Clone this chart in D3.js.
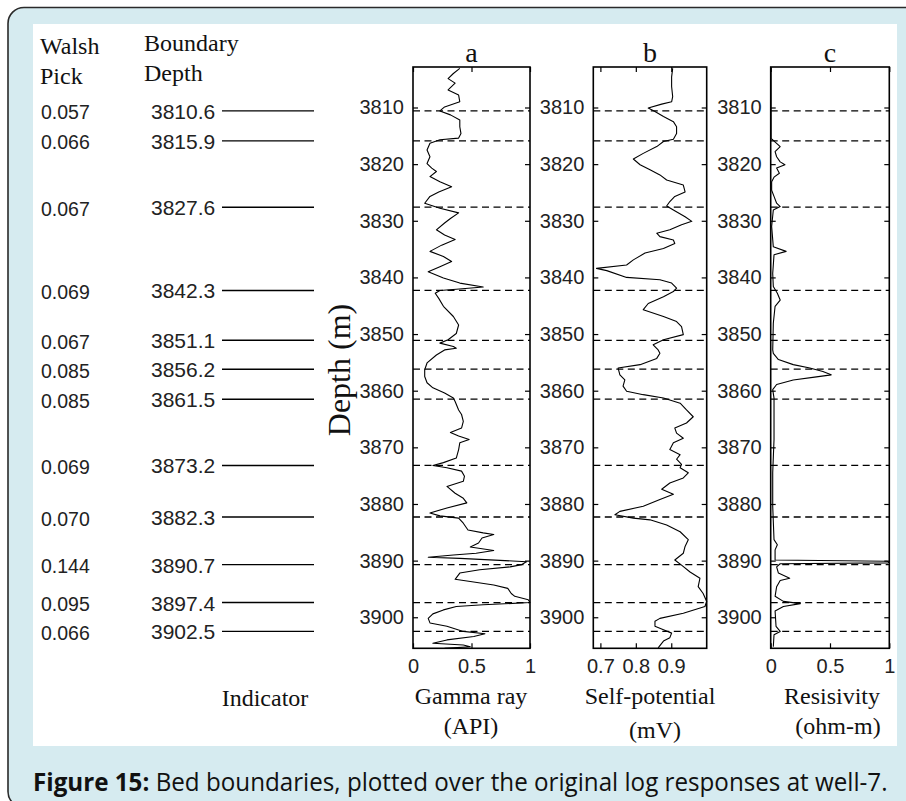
<!DOCTYPE html>
<html>
<head>
<meta charset="utf-8">
<script src="https://cdn.jsdelivr.net/npm/d3@7"></script>
<style>
  html, body { margin: 0; padding: 0; background: #fff; }
  svg { display: block; }
</style>
</head>
<body>
<svg id="chart" width="906" height="801"></svg>
<script>
// ---------------- DATA ----------------
const depthTicks = [3810, 3820, 3830, 3840, 3850, 3860, 3870, 3880, 3890, 3900];
const boundaryDepths = [3810.6, 3815.9, 3827.6, 3842.3, 3851.1, 3856.2, 3861.5, 3873.2, 3882.3, 3890.7, 3897.4, 3902.5];
const walshPicks = ["0.057", "0.066", "0.067", "0.069", "0.067", "0.085", "0.085", "0.069", "0.070", "0.144", "0.095", "0.066"];

const panelTitles = ["a", "b", "c"];
const xTicksA = [0, 0.5, 1];
const xTicksB = [0.7, 0.8, 0.9];
const xTicksC = [0, 0.5, 1];
const xLabels1 = ["Gamma ray", "Self-potential", "Resisivity"];
const xLabels2 = ["(API)", "(mV)", "(ohm-m)"];

// [depth (m), value]
const gammaRay = [[3803.1,.40],[3804.0,.345],[3804.9,.30],[3805.7,.36],[3806.9,.30],[3807.8,.39],[3809.0,.40],[3809.9,.27],[3810.6,.23],[3811.3,.32],[3812.2,.40],[3813.4,.40],[3814.6,.41],[3815.4,.39],[3815.7,.23],[3816.3,.145],[3817.5,.12],[3818.7,.145],[3819.9,.12],[3820.7,.16],[3821.3,.20],[3822.2,.145],[3823.1,.23],[3824.0,.33],[3824.9,.22],[3825.7,.145],[3826.9,.10],[3827.8,.23],[3828.6,.39],[3829.6,.32],[3830.4,.27],[3831.6,.20],[3832.5,.27],[3833.3,.36],[3834.3,.245],[3835.4,.145],[3836.3,.26],[3837.2,.33],[3838.1,.23],[3839.0,.13],[3840.1,.26],[3841.0,.40],[3841.7,.60],[3842.1,.37],[3842.3,.23],[3842.8,.19],[3843.7,.22],[3845.1,.26],[3846.9,.345],[3848.4,.39],[3849.9,.37],[3851.0,.30],[3851.6,.23],[3852.2,.345],[3852.5,.37],[3852.8,.27],[3853.7,.20],[3855.1,.12],[3856.3,.10],[3857.5,.10],[3858.6,.12],[3859.5,.17],[3860.4,.27],[3861.3,.345],[3861.9,.36],[3863.4,.39],[3864.2,.415],[3865.4,.43],[3866.6,.415],[3867.4,.32],[3868.0,.39],[3868.6,.48],[3869.2,.40],[3870.4,.39],[3871.9,.37],[3872.7,.26],[3873.2,.17],[3873.6,.29],[3874.2,.415],[3875.1,.44],[3876.0,.43],[3876.9,.29],[3878.1,.36],[3879.0,.43],[3879.8,.46],[3880.7,.29],[3881.6,.145],[3882.1,.23],[3882.5,.39],[3883.4,.43],[3884.6,.47],[3885.1,.60],[3885.4,.69],[3886.0,.59],[3886.9,.56],[3887.6,.49],[3888.2,.69],[3888.7,.54],[3889.0,.345],[3889.4,.13],[3889.6,.40],[3890.2,.97],[3890.7,.93],[3891.1,.83],[3891.6,.57],[3892.2,.40],[3893.3,.36],[3893.7,.49],[3894.3,.69],[3894.9,.81],[3895.8,.84],[3896.3,.87],[3896.9,.985],[3897.4,1.0],[3897.8,.60],[3898.1,.37],[3898.7,.26],[3899.4,.17],[3900.2,.13],[3901.0,.145],[3901.6,.29],[3902.5,.43],[3902.9,.615],[3903.4,.52],[3904.0,.29],[3904.6,.17],[3904.9,.43],[3905.2,.49],[3905.5,.27]];

const selfPotential = [[3803.1,.904],[3804.6,.901],[3806.3,.901],[3808.1,.904],[3809.0,.901],[3809.4,.873],[3810.1,.835],[3810.7,.854],[3811.6,.878],[3812.5,.906],[3813.4,.915],[3814.6,.915],[3815.6,.906],[3816.0,.878],[3816.9,.859],[3818.1,.821],[3819.1,.793],[3820.1,.812],[3821.0,.84],[3821.9,.868],[3822.8,.887],[3823.7,.934],[3824.9,.939],[3825.7,.91],[3826.6,.896],[3827.4,.887],[3828.1,.906],[3829.3,.939],[3830.1,.958],[3830.7,.929],[3831.6,.896],[3832.2,.859],[3832.8,.868],[3833.4,.906],[3834.0,.91],[3834.9,.878],[3835.7,.826],[3836.9,.793],[3837.8,.774],[3838.4,.689],[3838.8,.718],[3840.0,.774],[3840.4,.868],[3841.0,.901],[3841.9,.915],[3842.5,.906],[3843.4,.878],[3844.6,.835],[3845.7,.821],[3846.9,.878],[3847.8,.915],[3848.7,.929],[3850.1,.934],[3851.0,.878],[3851.9,.849],[3852.8,.863],[3853.4,.868],[3854.3,.859],[3855.4,.812],[3856.0,.75],[3857.2,.755],[3858.1,.769],[3859.2,.764],[3860.1,.774],[3860.7,.821],[3861.3,.878],[3862.2,.925],[3863.4,.943],[3864.6,.962],[3865.7,.943],[3866.6,.91],[3867.5,.915],[3868.4,.934],[3869.2,.906],[3870.4,.896],[3871.3,.925],[3872.1,.915],[3873.0,.929],[3873.6,.925],[3874.5,.948],[3875.4,.934],[3876.3,.896],[3877.4,.873],[3878.3,.906],[3879.2,.868],[3880.4,.821],[3881.3,.755],[3881.9,.741],[3882.5,.793],[3882.8,.84],[3883.7,.887],[3884.9,.925],[3886.3,.948],[3887.5,.939],[3888.7,.934],[3889.9,.91],[3890.8,.929],[3892.0,.953],[3893.1,.981],[3894.6,.976],[3895.8,.99],[3897.2,1.0],[3898.1,.995],[3899.3,.934],[3900.2,.868],[3900.7,.854],[3901.6,.854],[3902.2,.878],[3902.8,.901],[3903.6,.896],[3904.2,.878],[3905.4,.863]];

const resistivity = [[3803.0,.003],[3815.5,.003],[3815.7,.017],[3816.9,.08],[3817.8,.037],[3818.7,.05],[3819.6,.08],[3820.1,.12],[3820.7,.05],[3821.6,.073],[3822.3,.028],[3823.1,.008],[3824.6,.008],[3825.7,.028],[3826.9,.05],[3827.5,.08],[3828.1,.022],[3831.0,.008],[3834.6,.022],[3835.4,.13],[3836.0,.028],[3839.3,.017],[3841.6,.022],[3842.8,.056],[3844.0,.08],[3845.1,.037],[3848.1,.022],[3852.8,.017],[3853.4,.022],[3854.5,.065],[3855.4,.19],[3856.0,.33],[3856.6,.44],[3857.2,.51],[3857.6,.37],[3858.1,.19],[3858.9,.05],[3859.8,.017],[3861.3,.028],[3868.6,.028],[3874.5,.017],[3880.4,.017],[3886.3,.028],[3887.2,.056],[3888.1,.037],[3889.9,.037],[3890.1,.98],[3890.25,1.0],[3890.4,.99],[3890.55,.08],[3891.1,.05],[3892.2,.065],[3893.1,.16],[3893.5,.08],[3894.6,.05],[3896.3,.037],[3897.2,.107],[3897.6,.25],[3898.1,.107],[3898.9,.037],[3901.6,.045],[3902.5,.08],[3903.1,.028],[3905.2,.022]];

// ---------------- LAYOUT ----------------
const svg = d3.select("#chart");
const SERIF = "'Liberation Serif', 'Times New Roman', serif";
const SANS = "'Liberation Sans', Arial, sans-serif";

// background frame
svg.append("rect").attr("x", 0).attr("y", 0).attr("width", 906).attr("height", 801).attr("fill", "#fff");
svg.append("rect").attr("x", 8).attr("y", 7.5).attr("width", 930).attr("height", 800)
  .attr("rx", 16).attr("fill", "#d6ebf0").attr("stroke", "#2a2a2a").attr("stroke-width", 1.6);
svg.append("rect").attr("x", 33).attr("y", 24).attr("width", 864).attr("height", 722).attr("fill", "#fff");

const yTop = 67, yBot = 648.3;
const y = d3.scaleLinear().domain([3802.85, 3905.48]).range([yTop, yBot]);

const panels = [
  { x0: 413, x1: 530, domain: [0, 1], ticks: xTicksA, fmt: d => d === 0.5 ? "0.5" : String(d), data: gammaRay },
  { x0: 593.3, x1: 706.7, domain: [0.68, 1.0], ticks: xTicksB, fmt: d3.format(".1f"), data: selfPotential },
  { x0: 770.7, x1: 889.3, domain: [0, 1], ticks: xTicksC, fmt: d => d === 0.5 ? "0.5" : String(d), data: resistivity }
];

panels.forEach((p, i) => {
  const x = d3.scaleLinear().domain(p.domain).range([p.x0, p.x1]);
  const g = svg.append("g");

  // curve
  const line = d3.line().x(d => x(d[1])).y(d => y(d[0]));
  g.append("path").datum(p.data).attr("d", line)
    .attr("fill", "none").attr("stroke", "#000").attr("stroke-width", 1.1).attr("stroke-linejoin", "round");

  // boundaries (dashed)
  g.selectAll("line.bd").data(boundaryDepths).join("line")
    .attr("x1", p.x0).attr("x2", p.x1)
    .attr("y1", d => y(d)).attr("y2", d => y(d))
    .attr("stroke", "#000").attr("stroke-width", 1.3).attr("stroke-dasharray", "7,4.5");

  // axes
  const left = d3.axisLeft(y).tickValues(depthTicks).tickSize(-5).tickPadding(9).tickFormat(d3.format("d"));
  const right = d3.axisRight(y).tickValues(depthTicks).tickSize(-5).tickFormat("");
  const top = d3.axisTop(x).tickValues(p.ticks).tickSize(-5).tickFormat("");
  const bottom = d3.axisBottom(x).tickValues(p.ticks).tickSize(-5).tickPadding(8).tickFormat(p.fmt);

  const gl = g.append("g").attr("transform", `translate(${p.x0},0)`).call(left);
  const gr = g.append("g").attr("transform", `translate(${p.x1},0)`).call(right);
  const gt = g.append("g").attr("transform", `translate(0,${yTop})`).call(top);
  const gb = g.append("g").attr("transform", `translate(0,${yBot})`).call(bottom);
  [gl, gr, gt, gb].forEach(a => {
    a.select(".domain").remove();
    a.selectAll(".tick line").attr("stroke", "#000").attr("stroke-width", 1.2);
    a.selectAll("text").attr("font-family", SANS).attr("font-size", 20).attr("fill", "#222");
  });
  gb.selectAll("text").attr("dy", null).attr("y", 25);

  // box
  g.append("rect").attr("x", p.x0).attr("y", yTop).attr("width", p.x1 - p.x0).attr("height", yBot - yTop)
    .attr("fill", "none").attr("stroke", "#000").attr("stroke-width", 1.6);

  // title
  svg.append("text").attr("x", (p.x0 + p.x1) / 2).attr("y", 62).attr("text-anchor", "middle")
    .attr("font-family", SERIF).attr("font-size", 28).attr("fill", "#111").text(panelTitles[i]);
});

// x-axis labels
const labelCx1 = [471, 650, 832];
const labelCx2 = [471, 655, 838];
const labelY2 = [734, 738, 734];
xLabels1.forEach((t, i) => {
  svg.append("text").attr("x", labelCx1[i]).attr("y", 704).attr("text-anchor", "middle")
    .attr("font-family", SERIF).attr("font-size", 24).attr("fill", "#111").text(t);
  svg.append("text").attr("x", labelCx2[i]).attr("y", labelY2[i]).attr("text-anchor", "middle")
    .attr("font-family", SERIF).attr("font-size", 24).attr("fill", "#111").text(xLabels2[i]);
});
svg.append("text").attr("x", 265).attr("y", 706).attr("text-anchor", "middle")
  .attr("font-family", SERIF).attr("font-size", 24).attr("fill", "#111").text("Indicator");

// y axis label
svg.append("text").attr("transform", "translate(350,370) rotate(-90)").attr("text-anchor", "middle")
  .attr("font-family", SERIF).attr("font-size", 32).attr("fill", "#111").text("Depth (m)");

// left columns headers
const hdr = [["Walsh", 40, 54], ["Pick", 40, 84], ["Boundary", 144, 51], ["Depth", 144, 81]];
hdr.forEach(h => svg.append("text").attr("x", h[1]).attr("y", h[2])
  .attr("font-family", SERIF).attr("font-size", 24).attr("fill", "#111").text(h[0]));

// walsh picks and boundary depths
const lg = svg.append("g");
lg.selectAll("text.wp").data(walshPicks).join("text")
  .attr("x", 41).attr("y", (d, i) => y(boundaryDepths[i]) + 1.5)
  .attr("dominant-baseline", "central")
  .attr("font-family", SANS).attr("font-size", 19.5).attr("fill", "#222").text(d => d);
lg.selectAll("text.bdv").data(boundaryDepths).join("text")
  .attr("x", 151).attr("y", d => y(d) + 0.5)
  .attr("dominant-baseline", "central")
  .attr("font-family", SANS).attr("font-size", 21).attr("fill", "#222").text(d => d.toFixed(1));
lg.selectAll("line").data(boundaryDepths).join("line")
  .attr("x1", 222).attr("x2", 314)
  .attr("y1", d => y(d)).attr("y2", d => y(d))
  .attr("stroke", "#000").attr("stroke-width", 1.4);

// caption
const cap = svg.append("text").attr("x", 33).attr("y", 791)
  .attr("font-family", "'Open Sans', 'Noto Sans', sans-serif").attr("font-size", 25).attr("fill", "#111");
cap.append("tspan").attr("font-weight", "bold").text("Figure 15:");
cap.append("tspan").text(" Bed boundaries, plotted over the original log responses at well-7.");
const w = cap.node().getComputedTextLength();
const sx = 855 / w;
cap.attr("transform", `translate(33,0) scale(${sx},1) translate(-33,0)`);
</script>
</body>
</html>
